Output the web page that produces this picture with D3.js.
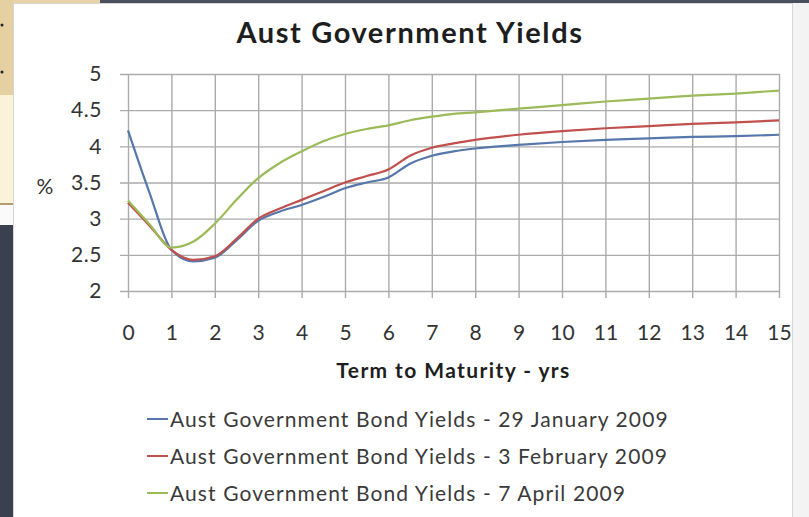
<!DOCTYPE html>
<html>
<head>
<meta charset="utf-8">
<script src="https://cdn.jsdelivr.net/npm/d3@7"></script>
<style>
  html, body { margin: 0; padding: 0; background: #f3f3f3; }
  svg { display: block; font-family: Lato, "Open Sans", sans-serif; }
</style>
</head>
<body>
<svg class="graph" width="809" height="517"></svg>
<script>
// term to maturity (yrs) sampled along the curves
const terms = [0, 0.5, 1, 1.5, 2, 2.5, 3, 3.5, 4, 4.5, 5, 5.5, 6, 6.5, 7, 7.5, 8, 9, 10, 11, 12, 13, 14, 15];

// yields in %
const jan29 = [4.22, 3.35, 2.57, 2.41, 2.46, 2.70, 2.97, 3.10, 3.19, 3.30, 3.42, 3.50, 3.57, 3.76, 3.87, 3.93, 3.97, 4.02, 4.06, 4.09, 4.11, 4.13, 4.14, 4.16];
const feb3  = [3.22, 2.90, 2.57, 2.43, 2.48, 2.72, 3.00, 3.14, 3.26, 3.38, 3.50, 3.59, 3.68, 3.87, 3.98, 4.04, 4.09, 4.16, 4.21, 4.25, 4.28, 4.31, 4.33, 4.36];
const apr7  = [3.25, 2.92, 2.60, 2.68, 2.93, 3.26, 3.56, 3.77, 3.93, 4.07, 4.17, 4.24, 4.29, 4.36, 4.41, 4.45, 4.47, 4.52, 4.57, 4.62, 4.66, 4.70, 4.73, 4.77];

const seriesNames = [
    'Aust Government Bond Yields - 29 January 2009',
    'Aust Government Bond Yields - 3 February 2009',
    'Aust Government Bond Yields - 7 April 2009'
];
const seriesColors = ['#5677ab', '#c0504d', '#9bbb59'];

const xTicks = d3.range(0, 16);
const yTicks = [2, 2.5, 3, 3.5, 4, 4.5, 5];

const series = [jan29, feb3, apr7].map((vals, i) => ({
    name: seriesNames[i],
    color: seriesColors[i],
    points: terms.map((t, j) => ({ t, v: vals[j] }))
}));

const svg = d3.select('svg.graph');

// slide background bits around the chart panel
svg.append('rect').attr('x', 0).attr('y', 0).attr('width', 809).attr('height', 517).attr('fill', '#f3f3f3');
svg.append('rect').attr('x', 0).attr('y', 0).attr('width', 110).attr('height', 4).attr('fill', '#e7d3a6');
svg.append('rect').attr('x', 100).attr('y', 0).attr('width', 709).attr('height', 3).attr('fill', '#4a4f5e');
svg.append('rect').attr('x', 0).attr('y', 0).attr('width', 13).attr('height', 95).attr('fill', '#e5d0a2');
svg.append('rect').attr('x', 0).attr('y', 95).attr('width', 13).attr('height', 108).attr('fill', '#fcf2d8');
svg.append('rect').attr('x', 0).attr('y', 203).attr('width', 13).attr('height', 2).attr('fill', '#b49c72');
svg.append('rect').attr('x', 0).attr('y', 205).attr('width', 13).attr('height', 20).attr('fill', '#fafafa');
svg.append('rect').attr('x', 0).attr('y', 225).attr('width', 13).attr('height', 292).attr('fill', '#3b4050');
[25, 72].forEach(y => svg.append('circle').attr('cx', 2).attr('cy', y).attr('r', 1.5).attr('fill', '#222'));

// white chart panel
svg.append('rect')
    .attr('x', 13.5).attr('y', 3.5).attr('width', 779).attr('height', 520)
    .attr('fill', '#fff').attr('stroke', '#d6d6d6');

// plot area
const plot = { left: 128, right: 779, top: 74, bottom: 291 };
const x = d3.scaleLinear().domain([0, 15]).range([plot.left, plot.right]);
const y = d3.scaleLinear().domain([2, 5]).range([plot.bottom, plot.top]);

const gridColor = '#ababab';

// horizontal gridlines + y axis
const yAxis = svg.append('g')
    .attr('transform', `translate(${plot.left},0)`)
    .call(d3.axisLeft(y).tickValues(yTicks).tickFormat(d3.format('')).tickSize(-(plot.right - plot.left)).tickPadding(26));
yAxis.select('.domain').remove();
yAxis.selectAll('.tick line')
    .attr('x1', -8)
    .attr('stroke', gridColor).attr('stroke-width', 1.4);
yAxis.selectAll('.tick text')
    .attr('font-size', 21).attr('fill', '#333').attr('font-family', 'Lato, sans-serif')
    .attr('letter-spacing', 0.6);

// vertical gridlines + x axis
const xAxis = svg.append('g')
    .attr('transform', `translate(0,${plot.bottom})`)
    .call(d3.axisBottom(x).tickValues(xTicks).tickSize(-(plot.bottom - plot.top)).tickPadding(34));
xAxis.select('.domain').remove();
xAxis.selectAll('.tick line')
    .attr('y1', 7)
    .attr('stroke', gridColor).attr('stroke-width', 1.4);
xAxis.selectAll('.tick text')
    .attr('font-size', 21).attr('fill', '#333').attr('font-family', 'Lato, sans-serif');

// lines
const line = d3.line()
    .x(d => x(d.t))
    .y(d => y(d.v))
    .curve(d3.curveMonotoneX);

svg.append('g').selectAll('path')
    .data(series)
    .join('path')
    .attr('d', d => line(d.points))
    .attr('fill', 'none')
    .attr('stroke', d => d.color)
    .attr('stroke-width', 2.2)
    .attr('stroke-linejoin', 'round');

// titles
svg.append('text')
    .attr('x', 410).attr('y', 43)
    .attr('text-anchor', 'middle')
    .attr('font-size', 29).attr('font-weight', 'bold').attr('fill', '#1e1e1e')
    .attr('letter-spacing', 1.6)
    .text('Aust Government Yields');

svg.append('text')
    .attr('x', 45).attr('y', 194)
    .attr('text-anchor', 'middle')
    .attr('font-size', 21).attr('fill', '#333')
    .text('%');

svg.append('text')
    .attr('x', (plot.left + plot.right) / 2).attr('y', 378)
    .attr('text-anchor', 'middle')
    .attr('font-size', 21).attr('font-weight', 'bold').attr('fill', '#1e1e1e')
    .attr('letter-spacing', 1.4)
    .text('Term to Maturity - yrs');

// legend
const legend = svg.append('g').attr('transform', 'translate(147,419)');
const items = legend.selectAll('g')
    .data(series)
    .join('g')
    .attr('transform', (d, i) => `translate(0,${i * 37})`);
items.append('line')
    .attr('x1', 0).attr('x2', 21)
    .attr('stroke', d => d.color).attr('stroke-width', 2);
items.append('text')
    .attr('x', 23).attr('y', 7.7)
    .attr('font-size', 21).attr('fill', '#3a3a3a')
    .attr('letter-spacing', 1.1)
    .text(d => d.name);
</script>
</body>
</html>
